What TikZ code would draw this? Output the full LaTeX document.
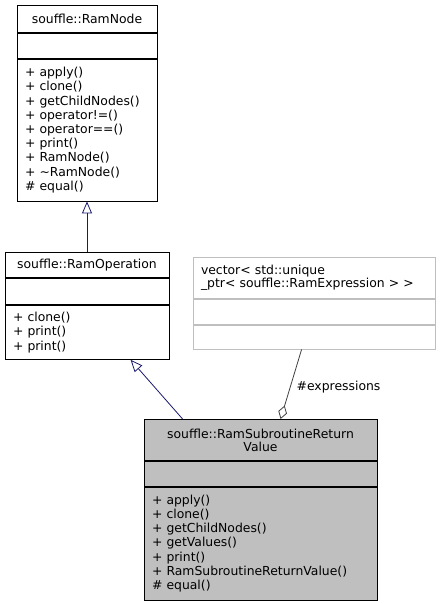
\documentclass[tikz,border=0pt]{standalone}
\usepackage{fontspec}
\setmainfont{DejaVu Sans}
\usetikzlibrary{arrows.meta, positioning}

\definecolor{edgeblue}{HTML}{191970}
\definecolor{edgegrey}{HTML}{404040}
\definecolor{boxgrey}{HTML}{BFBFBF}
\definecolor{linegrey}{HTML}{BFBFBF}

\begin{document}
\begin{tikzpicture}[
  x=1pt, y=-1pt,
  every node/.style={font=\fontsize{12.4}{14.2}\selectfont, inner xsep=8pt, inner ysep=0pt},
  classpart/.style={draw, line width=0.8pt, text width=#1, align=left},
  classname/.style={classpart=#1, align=center, font=\fontsize{12.4}{13}\selectfont},
  inherit/.style={draw=edgeblue, line width=0.8pt, -{Triangle[open, length=12pt, width=10pt]}},
  member/.style={draw=edgegrey, line width=0.8pt, -{Diamond[open, length=14pt, width=9pt]}}
]
\useasboundingbox (0,0) rectangle (439,604);

% Base class
\node[classname=124pt, minimum height=27pt, anchor=north] (ramnode) at (87,5) {souffle::RamNode};
\node[classpart=124pt, minimum height=25pt, below=0pt of ramnode] (ramnodeAttr) {};
\node[classpart=124pt, minimum height=142pt, below=0pt of ramnodeAttr] (ramnodeOps)
  {+ apply()\\+ clone()\\+ getChildNodes()\\+ operator!=()\\+ operator==()\\+ print()\\+ RamNode()\\+ \textasciitilde RamNode()\\\# equal()};

% Middle class
\node[classname=148pt, minimum height=25pt, below=51pt of ramnodeOps] (ramop) {souffle::RamOperation};
\node[classpart=148pt, minimum height=26pt, below=0pt of ramop] (ramopAttr) {};
\node[classpart=148pt, minimum height=54pt, below=0pt of ramopAttr] (ramopOps)
  {+ clone()\\+ print()\\+ print()};

\draw[inherit] (ramop.north) -- (ramnodeOps.south);

% Member type
\node[classpart=226pt, draw=linegrey, minimum height=41pt, anchor=north, font=\fontsize{12.4}{13}\selectfont] (vec) at (314,257)
  {vector< std::unique\\\_ptr< souffle::RamExpression > >};
\node[classpart=226pt, draw=linegrey, minimum height=25pt, below=0pt of vec] (vecAttr) {};
\node[classpart=226pt, draw=linegrey, minimum height=24pt, below=0pt of vecAttr] (vecOps) {};

% Documented class
\node[classname=217pt, fill=boxgrey, minimum height=41pt, anchor=north] (rsrv) at (260.5,419)
  {souffle::RamSubroutineReturn\\Value};
\node[classpart=217pt, fill=boxgrey, minimum height=25pt, below=0pt of rsrv] (rsrvAttr) {};
\node[classpart=217pt, fill=boxgrey, minimum height=113pt, below=0pt of rsrvAttr] (rsrvOps)
  {+ apply()\\+ clone()\\+ getChildNodes()\\+ getValues()\\+ print()\\+ RamSubroutineReturnValue()\\\# equal()};

\draw[inherit] ([xshift=39pt]rsrv.north west) -- ([xshift=126pt]ramopOps.south west);
\draw[member] ([xshift=109pt]vecOps.south west)
  -- node[anchor=west, pos=0.54, xshift=4pt, inner xsep=2pt] (exprLabel) {\#expressions}
  ([xshift=137pt]rsrv.north west);
\end{tikzpicture}
\end{document}
